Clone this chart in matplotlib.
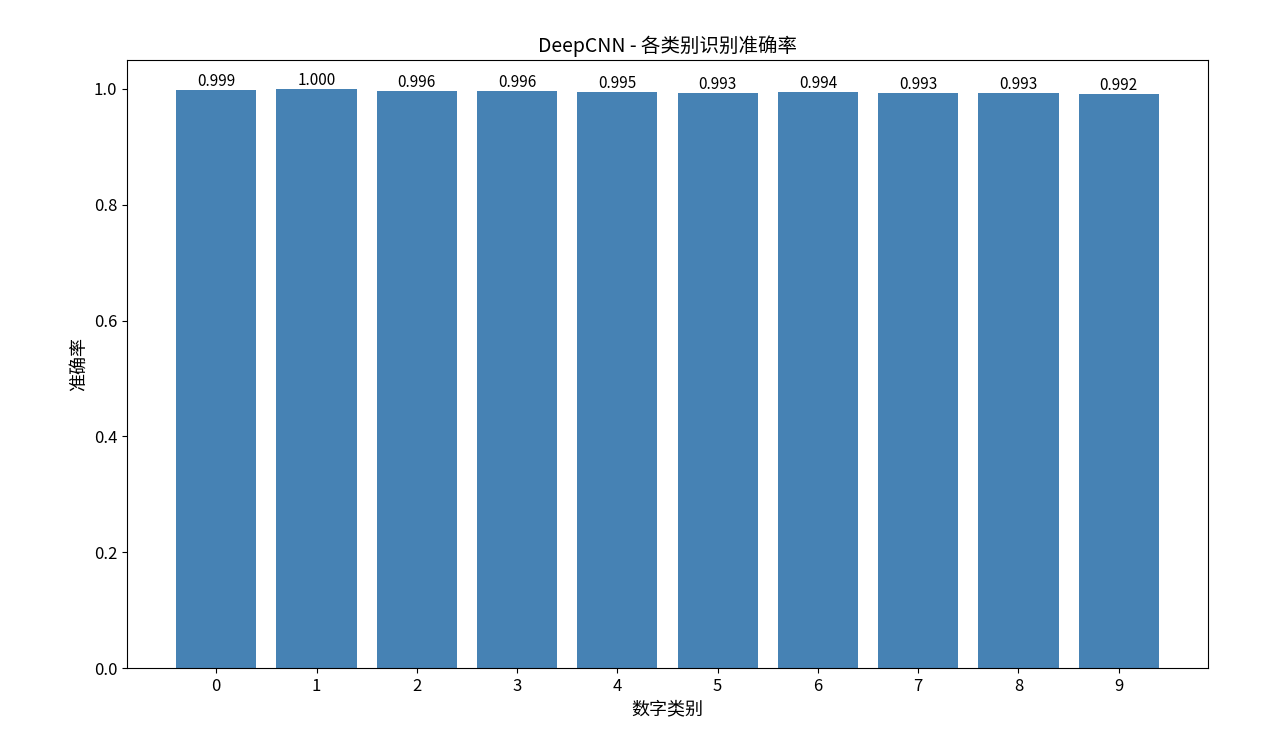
import matplotlib
matplotlib.use("Agg")
import matplotlib.pyplot as plt

plt.rcParams['font.family'] = ['Noto Sans CJK SC', 'DejaVu Sans']
plt.rcParams['axes.unicode_minus'] = False

# per-class accuracy
classes = [0, 1, 2, 3, 4, 5, 6, 7, 8, 9]
accuracy = [0.999, 1.000, 0.996, 0.996, 0.995, 0.993, 0.994, 0.993, 0.993, 0.992]

fig, ax = plt.subplots(figsize=(12.64, 7.55), dpi=100)
bars = ax.bar(classes, accuracy, color='steelblue')

for b, v in zip(bars, accuracy):
    ax.text(b.get_x() + b.get_width() / 2, v, f"{v:.3f}",
            ha='center', va='bottom', fontsize=11)

ax.set_xticks(classes)
ax.tick_params(labelsize=12)
ax.set_title("DeepCNN - 各类别识别准确率", fontsize=14)
ax.set_xlabel("数字类别", fontsize=13)
ax.set_ylabel("准确率", fontsize=13)

plt.subplots_adjust(left=0.1005, right=0.9557, top=0.9205, bottom=0.1152)
plt.savefig("out.png", dpi=100)
